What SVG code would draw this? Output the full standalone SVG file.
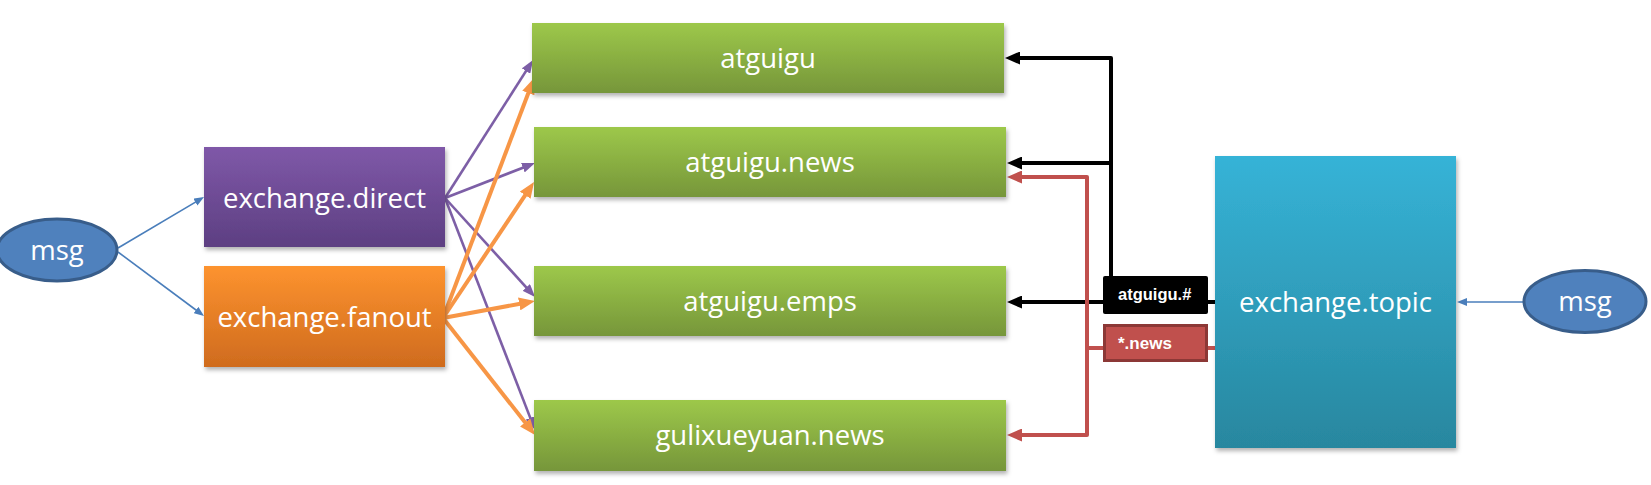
<svg xmlns="http://www.w3.org/2000/svg" width="1651" height="485" viewBox="0 0 1651 485">
<style>
.lbl{font-family:"Open Sans","Noto Sans","DejaVu Sans",sans-serif;font-size:27.5px;fill:#ffffff;text-anchor:middle}
.tag{font-family:"Liberation Sans",Arial,sans-serif;font-weight:bold;fill:#ffffff}
.blue{fill:none;stroke:#4a7ebb;stroke-width:1.6}
.purple{fill:none;stroke:#7d5fa6;stroke-width:2.6}
.orange{fill:none;stroke:#f79646;stroke-width:4}
.black{fill:none;stroke:#000000;stroke-width:4;stroke-linejoin:round}
.red{fill:none;stroke:#c0504d;stroke-width:4;stroke-linejoin:round}
</style>
<defs>
<linearGradient id="gPurple" x1="0" y1="0" x2="0" y2="1"><stop offset="0" stop-color="#7f58a8"/><stop offset="1" stop-color="#5d3f82"/></linearGradient>
<linearGradient id="gOrange" x1="0" y1="0" x2="0" y2="1"><stop offset="0" stop-color="#fd932f"/><stop offset="1" stop-color="#cf6b1e"/></linearGradient>
<linearGradient id="gGreen" x1="0" y1="0" x2="0" y2="1"><stop offset="0" stop-color="#9dc84a"/><stop offset="1" stop-color="#76963a"/></linearGradient>
<linearGradient id="gBlue" x1="0" y1="0" x2="0" y2="1"><stop offset="0" stop-color="#36b3d7"/><stop offset="1" stop-color="#28879f"/></linearGradient>
<filter id="shadow" x="-10%" y="-10%" width="125%" height="130%">
<feDropShadow dx="1.5" dy="3" stdDeviation="2" flood-color="#000" flood-opacity="0.3"/>
</filter>
<marker id="aBlue" markerUnits="userSpaceOnUse" markerWidth="10" markerHeight="8" refX="5" refY="4" orient="auto"><path d="M0,0 L10,4 L0,8 z" fill="#4a7ebb"/></marker>
<marker id="aPurple" markerUnits="userSpaceOnUse" markerWidth="13" markerHeight="10" refX="7" refY="5" orient="auto"><path d="M0,0 L13,5 L0,10 z" fill="#7d5fa6"/></marker>
<marker id="aOrange" markerUnits="userSpaceOnUse" markerWidth="16" markerHeight="13" refX="8" refY="6.5" orient="auto"><path d="M0,0 L16,6.5 L0,13 z" fill="#f79646"/></marker>
<marker id="aBlack" markerUnits="userSpaceOnUse" markerWidth="15" markerHeight="13" refX="8" refY="6.5" orient="auto"><path d="M0,0 L15,6.5 L0,13 z" fill="#000000"/></marker>
<marker id="aRed" markerUnits="userSpaceOnUse" markerWidth="15" markerHeight="13" refX="8" refY="6.5" orient="auto"><path d="M0,0 L15,6.5 L0,13 z" fill="#c0504d"/></marker>
</defs>
<rect width="1651" height="485" fill="#ffffff"/>

<g id="connectors">
<line class="blue" x1="118" y1="248" x2="199.7" y2="199.6" marker-end="url(#aBlue)"/>
<line class="blue" x1="118" y1="252" x2="200" y2="313" marker-end="url(#aBlue)"/>
<line class="blue" x1="1524" y1="302" x2="1462" y2="302" marker-end="url(#aBlue)"/>

<line class="purple" x1="445" y1="198" x2="529.8" y2="65.1" marker-end="url(#aPurple)"/>
<line class="purple" x1="445" y1="198" x2="529.4" y2="165.2" marker-end="url(#aPurple)"/>
<line class="purple" x1="445" y1="198" x2="531" y2="292.6" marker-end="url(#aPurple)"/>
<line class="purple" x1="445" y1="198" x2="532.8" y2="424.4" marker-end="url(#aPurple)"/>

<line class="orange" x1="443" y1="318" x2="531.2" y2="85.5" marker-end="url(#aOrange)"/>
<line class="orange" x1="443" y1="318" x2="529.6" y2="188.6" marker-end="url(#aOrange)"/>
<line class="orange" x1="443" y1="318" x2="527.1" y2="302.5" marker-end="url(#aOrange)"/>
<line class="orange" x1="443" y1="318" x2="530.1" y2="428.7" marker-end="url(#aOrange)"/>

<path class="black" d="M1215,302 H1111 V58 H1012" marker-end="url(#aBlack)"/>
<path class="black" d="M1111,163 H1014" marker-end="url(#aBlack)"/>
<path class="black" d="M1111,302 H1014" marker-end="url(#aBlack)"/>

<path class="red" d="M1215,348 H1087 V177 H1014" marker-end="url(#aRed)"/>
<path class="red" d="M1087,348 V435 H1014" marker-end="url(#aRed)"/>

<g id="label-atguigu-hash">
<rect x="1103" y="276" width="105" height="38" rx="2" fill="#000000"/>
<text class="tag" x="1118" y="300" font-size="16.5">atguigu.#</text>
</g>
<g id="label-star-news">
<rect x="1104.5" y="325.5" width="102" height="35" fill="#c0504d" stroke="#8c3836" stroke-width="3"/>
<text class="tag" x="1118" y="349" font-size="17">*.news</text>
</g>
</g>

<g id="msg-left">
<ellipse cx="57" cy="250" rx="60" ry="31" fill="#4f81bd" stroke="#385d8a" stroke-width="3"/>
<text class="lbl" x="57" y="260" font-size="26">msg</text>
</g>
<g id="exchange-direct">
<rect x="204" y="147" width="241" height="100" fill="url(#gPurple)" filter="url(#shadow)"/>
<text class="lbl" x="324.5" y="208">exchange.direct</text>
</g>
<g id="exchange-fanout">
<rect x="204" y="266" width="241" height="101" fill="url(#gOrange)" filter="url(#shadow)"/>
<text class="lbl" x="324.5" y="327">exchange.fanout</text>
</g>
<g id="q-atguigu">
<rect x="532" y="23" width="472" height="70" fill="url(#gGreen)" filter="url(#shadow)"/>
<text class="lbl" x="768" y="68">atguigu</text>
</g>
<g id="q-atguigu-news">
<rect x="534" y="127" width="472" height="70" fill="url(#gGreen)" filter="url(#shadow)"/>
<text class="lbl" x="770" y="172">atguigu.news</text>
</g>
<g id="q-atguigu-emps">
<rect x="534" y="266" width="472" height="70" fill="url(#gGreen)" filter="url(#shadow)"/>
<text class="lbl" x="770" y="311">atguigu.emps</text>
</g>
<g id="q-gulixueyuan-news">
<rect x="534" y="400" width="472" height="71" fill="url(#gGreen)" filter="url(#shadow)"/>
<text class="lbl" x="770" y="445">gulixueyuan.news</text>
</g>
<g id="exchange-topic">
<rect x="1215" y="156" width="241" height="292" fill="url(#gBlue)" filter="url(#shadow)"/>
<text class="lbl" x="1335.5" y="312">exchange.topic</text>
</g>
<g id="msg-right">
<ellipse cx="1585" cy="301.5" rx="61" ry="31" fill="#4f81bd" stroke="#385d8a" stroke-width="3"/>
<text class="lbl" x="1585" y="311" font-size="26">msg</text>
</g>
</svg>
